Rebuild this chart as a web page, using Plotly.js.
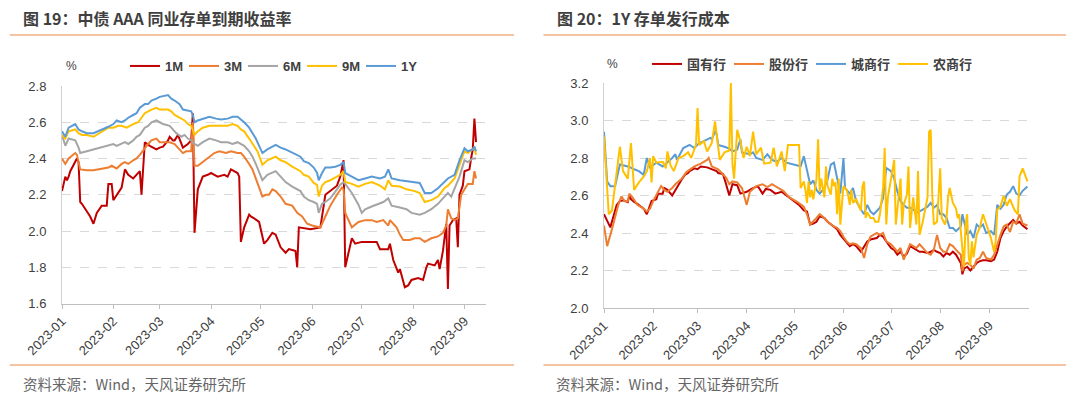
<!DOCTYPE html>
<html><head><meta charset="utf-8">
<script src="https://cdn.plot.ly/plotly-3.0.1.min.js"></script>
<style>html,body{margin:0;padding:0;background:#fff;}#chart{width:1080px;height:399px;}</style>
</head><body><div id="chart"></div>
<script>
const YEAR = '2023-';
// ---------- Left chart: 中债 AAA 同业存单到期收益率 (%) ----------
const leftNames = ['1M', '3M', '6M', '9M', '1Y'];
const m1Dates = ['01-01','01-03','01-04','01-05','01-06','01-09','01-10','01-11','01-12','01-13','01-16','01-18','01-20','01-22','01-25','01-28','01-29','01-31','02-01','02-03','02-04','02-06','02-08','02-10','02-13','02-15','02-17','02-18','02-20','02-23','02-27','03-01','03-03','03-06','03-07','03-09','03-10','03-12','03-14','03-15','03-18','03-20','03-21','03-22','03-24','03-27','03-30','04-01','04-03','04-05','04-09','04-11','04-13','04-15','04-17','04-18','04-19','04-21','04-24','04-25','04-27','04-30','05-03','05-05','05-08','05-10','05-13','05-16','05-18','05-20','05-22','05-23','05-24','05-31','06-06','06-09','06-12','06-16','06-18','06-20','06-21','06-25','06-27','07-01','07-10','07-12','07-17','07-18','07-20','07-23','07-24','07-26','07-27','07-29','07-31','08-04','08-07','08-09','08-10','08-14','08-16','08-17','08-18','08-19','08-21','08-22','08-23','08-25','08-27','08-28','08-29','08-31','09-01','09-04','09-05','09-06','09-07','09-08'];
const m1Vals = [2.22,2.30,2.28,2.30,2.33,2.38,2.40,2.38,2.16,2.15,2.11,2.08,2.04,2.10,2.14,2.14,2.26,2.26,2.17,2.20,2.21,2.24,2.34,2.31,2.29,2.31,2.33,2.20,2.49,2.47,2.45,2.46,2.465,2.50,2.52,2.50,2.50,2.53,2.49,2.46,2.48,2.50,2.65,1.99,2.23,2.30,2.31,2.32,2.31,2.30,2.31,2.30,2.34,2.33,2.32,2.30,1.94,2.02,2.09,2.08,2.07,2.05,1.93,1.95,1.99,1.98,1.91,1.88,1.90,1.895,1.89,1.80,2.02,2.01,2.02,2.20,2.22,2.25,2.30,2.39,1.80,1.96,1.93,1.94,1.94,1.90,1.90,1.93,1.84,1.77,1.79,1.72,1.69,1.70,1.73,1.74,1.73,1.80,1.82,1.81,1.84,1.79,1.85,1.89,2.04,1.68,2.03,2.06,2.07,1.91,2.20,2.25,2.33,2.34,2.40,2.45,2.62,2.49];
const m3Dates = ['01-01','01-03','01-05','01-09','01-10','01-11','01-12','01-16','01-20','01-29','01-31','02-03','02-06','02-08','02-10','02-13','02-15','02-17','02-20','02-22','02-24','02-27','03-01','03-03','03-07','03-10','03-13','03-15','03-17','03-20','03-21','03-22','03-24','03-27','03-30','04-03','04-06','04-10','04-13','04-17','04-19','04-21','04-24','04-26','04-28','05-02','05-04','05-06','05-08','05-10','05-13','05-16','05-20','05-23','05-26','05-29','06-01','06-06','06-09','06-12','06-16','06-19','06-20','06-21','06-25','06-29','07-03','07-07','07-10','07-14','07-17','07-18','07-20','07-22','07-24','07-26','07-30','08-02','08-05','08-08','08-12','08-16','08-19','08-21','08-22','08-24','08-26','08-28','08-30','09-03','09-06','09-07','09-08'];
const m3Vals = [2.40,2.37,2.40,2.43,2.42,2.38,2.34,2.335,2.335,2.35,2.36,2.345,2.37,2.38,2.37,2.39,2.40,2.42,2.46,2.48,2.50,2.51,2.49,2.49,2.49,2.48,2.45,2.43,2.44,2.44,2.60,2.36,2.36,2.38,2.40,2.43,2.44,2.43,2.44,2.43,2.43,2.41,2.37,2.34,2.29,2.19,2.20,2.20,2.23,2.22,2.19,2.15,2.14,2.10,2.08,2.04,2.03,2.02,2.08,2.14,2.20,2.24,2.23,2.10,2.02,2.05,2.06,2.06,2.05,2.06,2.03,2.06,2.04,2.02,1.98,1.95,1.95,1.96,1.96,1.94,1.96,1.97,1.99,2.03,2.12,2.07,2.06,2.07,2.20,2.26,2.26,2.33,2.29];
const m6Dates = ['01-01','01-03','01-05','01-09','01-11','01-12','01-16','01-20','01-29','02-01','02-03','02-06','02-08','02-10','02-13','02-15','02-17','02-20','02-22','02-24','02-27','03-01','03-03','03-07','03-09','03-11','03-14','03-16','03-18','03-20','03-22','03-24','03-27','03-31','04-04','04-07','04-11','04-14','04-17','04-19','04-21','04-24','04-26','04-28','05-02','05-05','05-08','05-10','05-13','05-16','05-20','05-25','05-27','05-30','06-02','06-04','06-05','06-07','06-09','06-12','06-16','06-18','06-20','06-21','06-25','06-29','07-01','07-03','07-07','07-12','07-14','07-17','07-19','07-24','07-28','07-31','08-05','08-08','08-12','08-16','08-20','08-22','08-24','08-26','08-29','09-01','09-03','09-06','09-08'];
const m6Vals = [2.53,2.47,2.51,2.50,2.46,2.43,2.44,2.45,2.47,2.48,2.47,2.48,2.49,2.48,2.50,2.52,2.53,2.57,2.58,2.60,2.61,2.60,2.59,2.58,2.56,2.54,2.52,2.53,2.51,2.50,2.48,2.47,2.49,2.51,2.50,2.49,2.49,2.48,2.49,2.48,2.47,2.44,2.41,2.37,2.28,2.31,2.32,2.33,2.30,2.27,2.245,2.22,2.19,2.17,2.16,2.15,2.10,2.15,2.16,2.18,2.23,2.255,2.27,2.26,2.21,2.145,2.10,2.12,2.135,2.155,2.16,2.18,2.14,2.13,2.12,2.10,2.09,2.10,2.12,2.15,2.19,2.21,2.19,2.23,2.30,2.39,2.38,2.40,2.40];
const m9Dates = ['01-01','01-03','01-05','01-09','01-11','01-13','01-16','01-20','01-29','02-01','02-04','02-06','02-09','02-13','02-16','02-20','02-22','02-24','02-27','03-01','03-06','03-08','03-10','03-14','03-16','03-18','03-20','03-22','03-24','03-27','03-31','04-04','04-07','04-11','04-14','04-17','04-19','04-21','04-24','04-27','04-29','05-02','05-05','05-10','05-13','05-16','05-20','05-25','05-27','05-30','06-02','06-04','06-05','06-07','06-09','06-12','06-16','06-18','06-20','06-21','06-25','06-29','07-03','07-07','07-12','07-15','07-17','07-19','07-24','07-28','08-02','08-05','08-08','08-12','08-16','08-20','08-22','08-26','08-29','09-01','09-03','09-06','09-07','09-08'];
const m9Vals = [2.53,2.51,2.55,2.56,2.54,2.53,2.53,2.52,2.57,2.57,2.58,2.58,2.57,2.59,2.60,2.65,2.66,2.67,2.68,2.67,2.67,2.66,2.64,2.62,2.61,2.59,2.58,2.53,2.55,2.57,2.58,2.58,2.58,2.58,2.59,2.58,2.56,2.55,2.51,2.47,2.44,2.365,2.39,2.41,2.39,2.38,2.355,2.33,2.31,2.30,2.265,2.255,2.19,2.25,2.27,2.28,2.30,2.31,2.33,2.27,2.26,2.245,2.26,2.27,2.25,2.23,2.28,2.25,2.245,2.23,2.22,2.21,2.16,2.17,2.19,2.237,2.25,2.29,2.365,2.44,2.43,2.45,2.46,2.42];
const y1Dates = ['01-01','01-03','01-05','01-09','01-11','01-13','01-16','01-20','01-29','02-01','02-03','02-06','02-08','02-10','02-13','02-15','02-17','02-20','02-22','02-24','02-27','03-01','03-06','03-08','03-10','03-13','03-15','03-17','03-20','03-21','03-22','03-24','03-28','03-31','04-04','04-07','04-11','04-14','04-17','04-19','04-21','04-24','04-26','04-28','05-02','05-05','05-10','05-13','05-16','05-21','05-25','05-27','05-30','06-02','06-04','06-05','06-07','06-09','06-12','06-15','06-18','06-20','06-21','06-25','06-29','07-03','07-07','07-12','07-15','07-17','07-19','07-24','07-28','08-02','08-05','08-08','08-12','08-16','08-20','08-22','08-26','08-29','09-01','09-03','09-06','09-07','09-08'];
const y1Vals = [2.55,2.52,2.57,2.59,2.56,2.55,2.54,2.54,2.575,2.59,2.61,2.60,2.61,2.625,2.64,2.65,2.68,2.70,2.70,2.72,2.73,2.74,2.75,2.73,2.72,2.70,2.67,2.665,2.66,2.64,2.60,2.61,2.62,2.63,2.62,2.615,2.62,2.63,2.63,2.615,2.60,2.57,2.54,2.51,2.43,2.45,2.475,2.46,2.45,2.43,2.41,2.385,2.375,2.35,2.32,2.28,2.32,2.35,2.35,2.355,2.365,2.38,2.32,2.30,2.28,2.29,2.30,2.29,2.30,2.34,2.29,2.28,2.275,2.27,2.265,2.21,2.21,2.236,2.27,2.29,2.31,2.39,2.457,2.44,2.45,2.466,2.44];
const leftColors = ['#C00000', '#ED7D31', '#A5A5A5', '#FFC000', '#5B9BD5'];
const leftTicks = [1.6, 1.8, 2.0, 2.2, 2.4, 2.6, 2.8];

// ---------- Right chart: 1Y 存单发行成本 (%) ----------
const rightNames = ['国有行', '股份行', '城商行', '农商行'];
const sobDates = ['01-01','01-05','01-09','01-11','01-13','01-16','01-17','01-18','01-20','01-22','01-26','01-28','01-31','02-03','02-04','02-07','02-08','02-10','02-13','02-15','02-16','02-19','02-21','02-23','02-24','02-27','03-01','03-03','03-07','03-10','03-13','03-14','03-17','03-19','03-21','03-23','03-26','03-28','04-01','04-04','04-08','04-11','04-13','04-16','04-19','04-23','04-26','04-30','05-04','05-07','05-09','05-10','05-11','05-13','05-15','05-17','05-20','05-22','05-24','05-26','05-28','05-30','06-01','06-03','06-05','06-07','06-09','06-12','06-14','06-16','06-18','06-20','06-22','06-24','06-26','06-28','07-01','07-03','07-05','07-07','07-09','07-11','07-13','07-15','07-17','07-19','07-21','07-24','07-26','07-28','07-30','08-01','08-03','08-05','08-07','08-09','08-11','08-14','08-15','08-16','08-18','08-20','08-22','08-24','08-26','08-28','08-30','09-02','09-04','09-06','09-08','09-10','09-12','09-14','09-16','09-18','09-20','09-22','09-25'];
const sobVals = [2.50,2.43,2.55,2.57,2.575,2.565,2.60,2.58,2.565,2.555,2.53,2.50,2.57,2.58,2.61,2.61,2.64,2.63,2.60,2.63,2.64,2.685,2.71,2.72,2.73,2.745,2.74,2.755,2.75,2.74,2.73,2.72,2.715,2.66,2.60,2.66,2.655,2.61,2.62,2.635,2.65,2.61,2.635,2.63,2.61,2.62,2.60,2.575,2.55,2.52,2.515,2.48,2.445,2.45,2.46,2.49,2.48,2.46,2.445,2.43,2.42,2.39,2.37,2.345,2.33,2.34,2.33,2.30,2.33,2.355,2.365,2.37,2.373,2.39,2.38,2.355,2.32,2.31,2.284,2.30,2.275,2.29,2.33,2.32,2.31,2.30,2.30,2.293,2.30,2.31,2.30,2.293,2.275,2.293,2.284,2.30,2.284,2.24,2.18,2.21,2.22,2.20,2.22,2.24,2.25,2.255,2.255,2.25,2.258,2.30,2.373,2.41,2.435,2.45,2.47,2.45,2.46,2.44,2.42];
const jsbDates = ['01-01','01-03','01-06','01-09','01-10','01-12','01-14','01-16','01-17','01-19','01-22','01-26','01-28','01-30','02-01','02-06','02-08','02-10','02-13','02-15','02-19','02-22','02-27','03-03','03-07','03-08','03-10','03-14','03-17','03-19','03-21','03-23','03-26','03-29','04-01','04-03','04-07','04-11','04-14','04-17','04-20','04-24','04-28','05-03','05-07','05-09','05-11','05-13','05-15','05-17','05-20','05-22','05-24','05-26','05-28','05-30','06-01','06-03','06-05','06-07','06-09','06-12','06-14','06-16','06-18','06-20','06-22','06-24','06-26','06-28','07-01','07-03','07-05','07-07','07-09','07-11','07-13','07-15','07-17','07-19','07-21','07-24','07-26','07-28','07-30','08-01','08-03','08-05','08-07','08-09','08-11','08-14','08-15','08-16','08-18','08-20','08-22','08-24','08-26','08-28','08-30','09-02','09-04','09-06','09-08','09-10','09-12','09-14','09-16','09-18','09-20','09-22','09-25'];
const jsbVals = [2.44,2.33,2.42,2.52,2.55,2.595,2.57,2.57,2.61,2.59,2.55,2.53,2.515,2.53,2.57,2.65,2.63,2.62,2.64,2.66,2.69,2.725,2.755,2.77,2.79,2.80,2.755,2.74,2.715,2.695,2.66,2.675,2.67,2.64,2.55,2.62,2.65,2.66,2.645,2.66,2.645,2.625,2.59,2.565,2.54,2.50,2.445,2.46,2.48,2.50,2.48,2.46,2.445,2.435,2.427,2.41,2.38,2.355,2.34,2.345,2.34,2.32,2.267,2.34,2.38,2.39,2.40,2.39,2.40,2.355,2.34,2.32,2.30,2.32,2.258,2.30,2.34,2.33,2.32,2.34,2.32,2.293,2.284,2.31,2.39,2.32,2.30,2.30,2.34,2.33,2.31,2.284,2.196,2.23,2.24,2.23,2.21,2.258,2.267,2.30,2.267,2.258,2.284,2.34,2.39,2.435,2.445,2.405,2.46,2.45,2.50,2.45,2.44];
const cityDates = ['01-01','01-03','01-05','01-08','01-11','01-16','01-20','01-23','01-26','01-28','01-30','02-03','02-07','02-10','02-13','02-15','02-16','02-20','02-22','02-24','02-27','03-02','03-05','03-09','03-10','03-12','03-13','03-14','03-18','03-21','03-23','03-26','03-28','03-29','04-03','04-05','04-07','04-11','04-14','04-17','04-20','04-23','04-26','04-30','05-05','05-07','05-09','05-11','05-13','05-15','05-17','05-20','05-22','05-24','05-26','05-28','05-30','06-01','06-02','06-03','06-05','06-07','06-09','06-12','06-14','06-16','06-18','06-20','06-22','06-24','06-26','06-28','07-01','07-03','07-05','07-07','07-09','07-11','07-13','07-15','07-17','07-19','07-21','07-24','07-26','07-28','07-30','08-01','08-03','08-05','08-07','08-09','08-11','08-14','08-15','08-16','08-18','08-20','08-22','08-24','08-26','08-28','08-30','09-02','09-04','09-06','09-08','09-10','09-12','09-14','09-16','09-18','09-20','09-22','09-25'];
const cityVals = [2.94,2.675,2.65,2.65,2.765,2.755,2.74,2.73,2.71,2.80,2.75,2.775,2.755,2.775,2.80,2.82,2.79,2.853,2.86,2.87,2.853,2.88,2.89,2.907,2.90,2.94,2.93,2.87,2.86,2.85,2.835,2.845,2.90,2.83,2.82,2.83,2.80,2.79,2.82,2.79,2.78,2.80,2.775,2.765,2.756,2.81,2.73,2.66,2.68,2.63,2.61,2.64,2.685,2.765,2.775,2.69,2.61,2.80,2.64,2.63,2.61,2.64,2.57,2.525,2.50,2.55,2.515,2.50,2.515,2.535,2.587,2.747,2.73,2.69,2.62,2.57,2.55,2.535,2.535,2.525,2.51,2.515,2.525,2.54,2.56,2.535,2.55,2.50,2.50,2.48,2.427,2.427,2.41,2.435,2.50,2.46,2.39,2.41,2.373,2.445,2.43,2.445,2.40,2.41,2.39,2.55,2.53,2.55,2.605,2.62,2.65,2.61,2.60,2.625,2.648];
const ruralDates = ['01-01','01-04','01-06','01-11','01-13','01-16','01-18','01-20','01-23','01-26','01-28','01-30','01-31','02-01','02-03','02-07','02-09','02-10','02-12','02-14','02-17','02-20','02-23','02-25','02-28','03-01','03-02','03-05','03-07','03-10','03-12','03-13','03-15','03-18','03-21','03-22','03-23','03-24','03-25','03-26','03-28','03-30','04-01','04-03','04-05','04-07','04-10','04-12','04-16','04-18','04-20','04-23','04-25','04-27','04-30','05-04','05-05','05-07','05-08','05-09','05-10','05-11','05-12','05-13','05-15','05-16','05-17','05-18','05-20','05-21','05-22','05-24','05-25','05-26','05-27','05-28','05-29','05-30','06-01','06-03','06-04','06-05','06-06','06-07','06-09','06-12','06-13','06-14','06-15','06-16','06-18','06-20','06-21','06-23','06-24','06-26','06-27','06-28','06-29','07-01','07-03','07-04','07-05','07-07','07-08','07-09','07-11','07-12','07-13','07-15','07-17','07-18','07-19','07-21','07-24','07-25','07-26','07-27','07-28','07-30','08-01','08-02','08-04','08-05','08-06','08-07','08-09','08-11','08-12','08-13','08-14','08-16','08-17','08-18','08-19','08-20','08-21','08-22','08-24','08-26','08-28','08-30','09-02','09-04','09-05','09-06','09-08','09-10','09-12','09-14','09-17','09-19','09-20','09-22','09-25'];
const ruralVals = [2.915,2.50,2.52,2.86,2.73,2.69,2.88,2.63,2.67,2.70,2.73,2.80,2.67,2.81,2.775,2.78,2.745,2.835,2.76,2.73,2.80,2.81,2.83,2.80,2.87,3.067,2.87,2.89,2.835,2.88,2.995,2.92,2.79,2.83,2.84,3.20,2.77,2.69,2.84,2.95,2.89,2.80,2.86,2.81,2.94,2.82,2.855,2.77,2.775,2.855,2.755,2.835,2.73,2.87,2.87,2.87,2.64,2.675,2.63,2.56,2.675,2.59,2.63,2.58,2.69,2.90,2.62,2.69,2.59,2.755,2.65,2.605,2.69,2.65,2.67,2.50,2.69,2.445,2.65,2.63,2.60,2.55,2.63,2.56,2.58,2.52,2.65,2.675,2.48,2.51,2.48,2.48,2.46,2.46,2.50,2.64,2.853,2.445,2.59,2.69,2.79,2.445,2.52,2.69,2.445,2.55,2.605,2.755,2.427,2.59,2.445,2.73,2.39,2.46,2.59,2.94,2.95,2.605,2.445,2.46,2.745,2.48,2.445,2.48,2.595,2.64,2.56,2.53,2.48,2.50,2.41,2.22,2.445,2.50,2.27,2.23,2.355,2.27,2.39,2.43,2.50,2.445,2.373,2.30,2.355,2.525,2.54,2.60,2.545,2.58,2.52,2.50,2.70,2.745,2.675];
const rightColors = ['#C00000', '#ED7D31', '#5B9BD5', '#FFC000'];
const rightTicks = [2.0, 2.2, 2.4, 2.6, 2.8, 3.0, 3.2];

// ---------- Text ----------
const leftTitle = '图 19：中债 AAA 同业存单到期收益率';
const rightTitle = '图 20：1Y 存单发行成本';
const sourceText = '资料来源：Wind，天风证券研究所';
const unitText = '%';

// ---------- Build ----------
const W = 1080, H = 399;
const px = v => v / W;
const py = v => 1 - v / H;
const full = arr => arr.map(d => YEAR + d);

const leftSeries = [[m1Dates, m1Vals], [m3Dates, m3Vals], [m6Dates, m6Vals], [m9Dates, m9Vals], [y1Dates, y1Vals]];
const rightSeries = [[sobDates, sobVals], [jsbDates, jsbVals], [cityDates, cityVals], [ruralDates, ruralVals]];

const traces = [];
leftSeries.forEach((s, i) => traces.push({
  type: 'scatter', mode: 'lines', name: leftNames[i], x: full(s[0]), y: s[1],
  xaxis: 'x', yaxis: 'y', legend: 'legend',
  line: {color: leftColors[i], width: 2}, hoverinfo: 'skip'
}));
rightSeries.forEach((s, i) => traces.push({
  type: 'scatter', mode: 'lines', name: rightNames[i], x: full(s[0]), y: s[1],
  xaxis: 'x2', yaxis: 'y2', legend: 'legend2',
  line: {color: rightColors[i], width: 2}, hoverinfo: 'skip'
}));

const latin = 'Liberation Sans, Arial, sans-serif';
const cjk = 'Noto Sans CJK SC, sans-serif';
const tickFont = {family: latin, size: 13, color: '#404040'};

function xAxis(domain, range, anchor) {
  return {domain, range, anchor, type: 'date', tick0: '2023-01-01', dtick: 'M1', tickformat: '%Y-%m',
    tickangle: -45, ticks: 'outside', ticklen: 4, tickcolor: '#bfbfbf', showline: true,
    linecolor: '#bfbfbf', linewidth: 1, showgrid: false, zeroline: false, tickfont: tickFont, fixedrange: true};
}
function yAxis(domain, ticks, anchor) {
  return {domain, anchor, range: [ticks[0], ticks[ticks.length - 1]], tickvals: ticks,
    ticktext: ticks.map(t => t.toFixed(1)), showline: true, linecolor: '#d0d0d0', linewidth: 1,
    showgrid: true, gridcolor: '#d9d9d9', griddash: 'dash', gridwidth: 1, zeroline: false,
    ticks: '', ticklabelstandoff: 12, tickfont: tickFont, fixedrange: true};
}

const orange = '#F4B183';
const hline = (x0, x1, y) => ({type: 'line', xref: 'paper', yref: 'paper', x0: px(x0), x1: px(x1), y0: py(y), y1: py(y), line: {color: orange, width: 1.5}});

const layout = {
  width: W, height: H, margin: {l: 0, r: 0, t: 0, b: 0}, paper_bgcolor: '#fff', plot_bgcolor: '#fff',
  showlegend: true,
  xaxis: xAxis([px(62), px(486)], ['2023-01-01', '2023-09-14'], 'y'),
  yaxis: yAxis([1 - 303.5 / H, 1 - 86 / H], leftTicks, 'x'),
  xaxis2: xAxis([px(604), px(1029)], ['2023-01-01', '2023-09-26'], 'y2'),
  yaxis2: yAxis([1 - 308 / H, 1 - 83 / H], rightTicks, 'x2'),
  legend: {orientation: 'h', x: px(125), y: py(66), xanchor: 'left', yanchor: 'middle',
    font: {family: latin, size: 13, color: '#404040', weight: 'bold'}, bgcolor: 'rgba(0,0,0,0)',
    entrywidth: 14, itemwidth: 30, traceorder: 'normal'},
  legend2: {orientation: 'h', x: px(647), y: py(64), xanchor: 'left', yanchor: 'middle',
    font: {family: cjk, size: 13, color: '#404040', weight: 'bold'}, bgcolor: 'rgba(0,0,0,0)',
    entrywidth: 37, itemwidth: 30, traceorder: 'normal'},
  shapes: [hline(9.7, 514, 35), hline(543.5, 1066, 35), hline(9.7, 514, 365), hline(543.5, 1066, 365)],
  annotations: [
    {text: leftTitle, xref: 'paper', yref: 'paper', x: px(21), y: py(18), xanchor: 'left', yanchor: 'middle', showarrow: false,
      font: {family: cjk, size: 16, color: '#3f3f3f', weight: 'bold'}},
    {text: rightTitle, xref: 'paper', yref: 'paper', x: px(555), y: py(18), xanchor: 'left', yanchor: 'middle', showarrow: false,
      font: {family: cjk, size: 16, color: '#3f3f3f', weight: 'bold'}},
    {text: sourceText, xref: 'paper', yref: 'paper', x: px(21), y: py(383), xanchor: 'left', yanchor: 'middle', showarrow: false,
      font: {family: cjk, size: 14.5, color: '#666666'}},
    {text: sourceText, xref: 'paper', yref: 'paper', x: px(554), y: py(383), xanchor: 'left', yanchor: 'middle', showarrow: false,
      font: {family: cjk, size: 14.5, color: '#666666'}},
    {text: unitText, xref: 'paper', yref: 'paper', x: px(71), y: py(66), xanchor: 'center', yanchor: 'middle', showarrow: false,
      font: {family: latin, size: 12, color: '#404040'}},
    {text: unitText, xref: 'paper', yref: 'paper', x: px(612), y: py(64), xanchor: 'center', yanchor: 'middle', showarrow: false,
      font: {family: latin, size: 12, color: '#404040'}}
  ]
};

Plotly.newPlot('chart', traces, layout, {displayModeBar: false, staticPlot: true});
</script>
</body></html>
